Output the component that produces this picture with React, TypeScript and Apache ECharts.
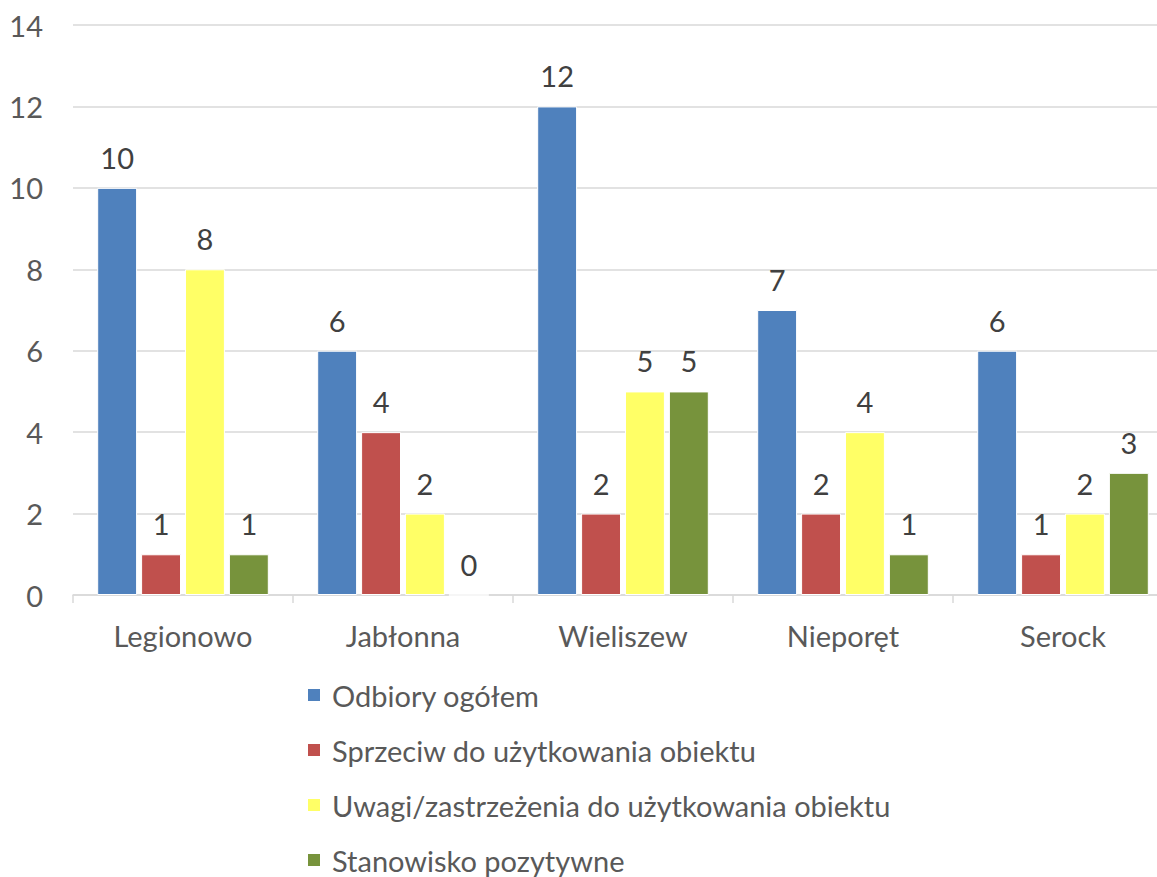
import React, { useEffect, useRef } from "react";
import * as echarts from "echarts";

const categories = ["Legionowo", "Jabłonna", "Wieliszew", "Nieporęt", "Serock"];
const seriesNames = [
  "Odbiory ogółem",
  "Sprzeciw do użytkowania obiektu",
  "Uwagi/zastrzeżenia do użytkowania obiektu",
  "Stanowisko pozytywne",
];
const odbiory = [10, 6, 12, 7, 6];
const sprzeciw = [1, 4, 2, 2, 1];
const uwagi = [8, 2, 5, 4, 2];
const pozytywne = [1, 0, 5, 1, 3];
const colors = ["#4F81BD", "#C0504D", "#FFFF66", "#77933C"];

const FONT = "Lato, 'Open Sans', sans-serif";
const TEXT = "#595959";
const FS = 29;

export default function App() {
  const ref = useRef<HTMLDivElement>(null);
  useEffect(() => {
    if (!ref.current) return;
    const chart = echarts.init(ref.current, undefined, { renderer: "svg" });
    const data = [odbiory, sprzeciw, uwagi, pozytywne];
    chart.setOption({
      animation: false,
      textStyle: { fontFamily: FONT },
      grid: { left: 73, top: 25, width: 1100, height: 570 },
      legend: {
        orient: "vertical",
        left: 301,
        top: 675,
        itemWidth: 14,
        itemHeight: 14,
        itemGap: 25,
        icon: "rect",
        textStyle: { fontSize: FS, lineHeight: 30, color: TEXT, fontFamily: FONT, padding: [0, 0, 0, 6] },
        data: seriesNames,
      },
      xAxis: {
        type: "category",
        data: categories,
        axisLine: { lineStyle: { color: "#D9D9D9", width: 1.5 } },
        axisTick: { show: true, length: 8, lineStyle: { color: "#D9D9D9", width: 1.5 } },
        axisLabel: { fontSize: FS, color: TEXT, margin: 26, fontFamily: FONT },
      },
      yAxis: {
        type: "value",
        min: 0,
        max: 14,
        interval: 2,
        axisLine: { show: false },
        axisTick: { show: false },
        splitLine: { lineStyle: { color: "#D9D9D9", width: 1.5 } },
        axisLabel: { fontSize: FS, color: TEXT, margin: 30, fontFamily: FONT },
      },
      series: seriesNames.map((name, i) => ({
        name,
        type: "bar",
        data: data[i],
        barGap: "10%",
        barCategoryGap: "22%",
        itemStyle: { color: colors[i], borderColor: "#FFFFFF", borderWidth: 1 },
        label: {
          show: true,
          position: "top",
          distance: 16,
          fontSize: FS,
          color: "#404040",
          fontFamily: FONT,
        },
      })),
    });
    return () => chart.dispose();
  }, []);
  return (
    <div
      style={{
        position: "fixed",
        left: 0,
        top: 0,
        width: 1157,
        height: 877,
        overflow: "hidden",
        background: "#fff",
      }}
    >
      <div ref={ref} style={{ width: 1190, height: 920 }} />
    </div>
  );
}
